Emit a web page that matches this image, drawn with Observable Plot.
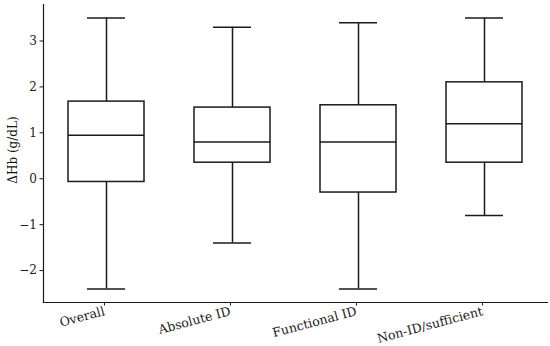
<!DOCTYPE html>
<html>
<head>
<meta charset="utf-8">
<script src="https://cdn.jsdelivr.net/npm/d3@7"></script>
<script src="https://cdn.jsdelivr.net/npm/@observablehq/plot@0.6"></script>
<style>
  html, body { margin: 0; padding: 0; background: #fff; }
  #chart { position: relative; width: 550px; height: 346px; }
  #ylabel { position: absolute; left: 13px; top: 150px; transform: translate(-50%, -50%) rotate(-90deg);
    font-family: "DejaVu Serif", serif; font-size: 12px; color: #111; white-space: nowrap; }
</style>
</head>
<body>
<div id="chart"><div id="ylabel">ΔHb (g/dL)</div></div>
<script>
const categories = ["Overall", "Absolute ID", "Functional ID", "Non-ID/sufficient"];
const whiskerLow  = [-2.4, -1.4, -2.4, -0.8];
const q1          = [-0.07, 0.35, -0.3, 0.35];
const median      = [0.95, 0.8, 0.8, 1.2];
const q3          = [1.68, 1.55, 1.6, 2.1];
const whiskerHigh = [3.5, 3.3, 3.4, 3.5];
const yTicks = [-2, -1, 0, 1, 2, 3];

const data = categories.map((c, i) => ({
  cat: c, lo: whiskerLow[i], q1: q1[i], med: median[i], q3: q3[i], hi: whiskerHigh[i]
}));

const ink = "#1a1a1a";
const sw = 1.5;
const font = "DejaVu Serif";

const chart = Plot.plot({
  width: 550,
  height: 346,
  marginLeft: 43,
  marginRight: 3,
  marginTop: 4,
  marginBottom: 44,
  style: { fontFamily: font, fontSize: "12px", color: ink, background: "white" },
  x: { type: "band", domain: categories, paddingInner: 0.4, paddingOuter: 0.2, label: null },
  y: { domain: [-2.695, 3.795], label: null },
  marks: [
    Plot.frame({ anchor: "left", stroke: ink, strokeWidth: 1.2 }),
    Plot.frame({ anchor: "bottom", stroke: ink, strokeWidth: 1.2 }),
    Plot.ruleX(data, { x: "cat", y1: "lo", y2: "q1", stroke: ink, strokeWidth: sw }),
    Plot.ruleX(data, { x: "cat", y1: "q3", y2: "hi", stroke: ink, strokeWidth: sw }),
    Plot.tickY(data, { x: "cat", y: "lo", stroke: ink, strokeWidth: sw, insetLeft: 19, insetRight: 19 }),
    Plot.tickY(data, { x: "cat", y: "hi", stroke: ink, strokeWidth: sw, insetLeft: 19, insetRight: 19 }),
    Plot.barY(data, { x: "cat", y1: "q1", y2: "q3", fill: "white", stroke: ink, strokeWidth: sw }),
    Plot.tickY(data, { x: "cat", y: "med", stroke: ink, strokeWidth: sw }),
    Plot.axisY({ ticks: yTicks, tickFormat: d3.format("d"), tickSize: 3.5, tickPadding: 3, fontSize: 12, label: null, stroke: ink }),
    Plot.axisX({ tickSize: 3.5, tickPadding: 5, tickRotate: -15, fontSize: 12.5, dx: -2, dy: 0, label: null, stroke: ink })
  ]
});
document.getElementById("chart").appendChild(chart);
</script>
</body>
</html>
